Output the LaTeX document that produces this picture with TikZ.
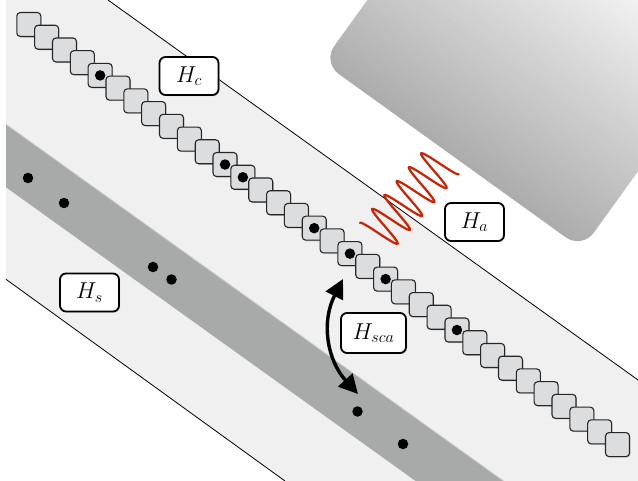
\RequirePackage{fix-cm}
\documentclass[tikz,border=0pt]{standalone}
\usetikzlibrary{arrows.meta,shadows}
\definecolor{bandgray}{HTML}{F0F0F0}
\definecolor{stripgray}{HTML}{A7AAA9}
\definecolor{stripedge}{HTML}{C9CCCB}
\definecolor{cellgray}{HTML}{DCDDDF}
\definecolor{wavered}{HTML}{CC2200}
\definecolor{blockdark}{HTML}{A8A8A8}
\definecolor{blocklight}{HTML}{F2F2F2}
\begin{document}
\begin{tikzpicture}[x=1pt,y=-1pt,
  cell/.style={rectangle, fill=cellgray, draw=black!85, line width=1.1pt,
    rounded corners=3.5pt, minimum size=24pt, inner sep=0pt,
    drop shadow={shadow xshift=0.9pt, shadow yshift=-1.1pt, opacity=0.35}},
  blackdot/.style={circle, fill=black, inner sep=0pt, minimum size=10.5pt},
  tagbox/.style={rectangle, draw=black, line width=1.8pt, fill=white,
    rounded corners=6pt, inner sep=0pt, minimum width=59pt, minimum height=38pt,
    font=\fontsize{23}{27}\selectfont,
    drop shadow={shadow xshift=1pt, shadow yshift=-1.2pt, opacity=0.35}},
  bandline/.style={line width=0.8pt, draw=black},
  dblarrow/.style={<->, >={Triangle[length=19pt,width=19pt]}, line width=3.4pt}
]
\useasboundingbox (0,0) rectangle (638,481);
\clip (0,0) rectangle (638,481);
\fill[white] (0,0) rectangle (638,481);

% light band
\fill[bandgray] (6,0) -- (108,0) -- (640,381.4) -- (640,481) -- (285,481) -- (6,279.3) -- cycle;
% dark strip
\fill[stripgray] (6,124.3) -- (503.5,481) -- (415.6,481) -- (6,187.3) -- cycle;
\draw[stripedge, line width=0.8pt] (6,124.3) -- (503.5,481);
% band border lines
\coordinate (bu1) at (108,0);
\coordinate (bu2) at (640,381.4);
\coordinate (bl1) at (6,279.3);
\coordinate (bl2) at (285,481);
\draw[bandline] (bu1) -- (bu2);
\draw[bandline] (bl1) -- (bl2);

% gray block with gradient (strips across its width)
\begin{scope}
  \clip[rounded corners=20pt] (322.5,62.3) -- (582,249) -- (757.5,5.6) -- (498,-181) -- cycle;
  \begin{scope}[shift={(322.5,62.3)}, rotate=-35.8]
    \foreach \k in {0,...,59} {
      \pgfmathtruncatemacro{\p}{min(100,round(6+\k*100/50))}
      \fill[blocklight!\p!blockdark] (-20,{-5*\k+0.6}) rectangle (360,{-5*\k-5});
    }
  \end{scope}
\end{scope}

% chain of cells
\foreach \i in {0,...,33}
  \node[cell] (c\i) at ({28.8+17.84*\i},{24.5+12.73*\i}) {};
\foreach \i in {4,11,12,16,18,20,24}
  \node[blackdot] (d\i) at (c\i) {};

% dots in the strip
\node[blackdot] (s1) at (28,178) {};
\node[blackdot] (s2) at (64,203) {};
\node[blackdot] (s3) at (153,267) {};
\node[blackdot] (s4) at (171.5,279.5) {};
\node[blackdot] (s5) at (357.5,411.5) {};
\node[blackdot] (s6) at (403,444) {};

% red wave
\draw[wavered, line width=2.2pt, line cap=round, domain=0:5.5, samples=300, smooth, variable=\t]
  plot ({375.7+12.24*\t-15.75*cos(360*\t)}, {236.8-13.91*\t-13.86*cos(360*\t)});

% curved double arrow
\coordinate (sca1) at (343,279);
\coordinate (sca2) at (358,394);
\draw[dblarrow] (sca1) .. controls (321,322) and (327,360) .. (sca2);

% labels
\node[tagbox] (Hc) at (189,76) {$H_c$};
\node[tagbox] (Ha) at (474.5,222) {$H_a$};
\node[tagbox] (Hs) at (89.5,292.5) {$H_s$};
\node[tagbox, minimum width=65pt, minimum height=40pt] (Hsca) at (373.5,333) {$H_{sca}$};
\end{tikzpicture}
\end{document}
